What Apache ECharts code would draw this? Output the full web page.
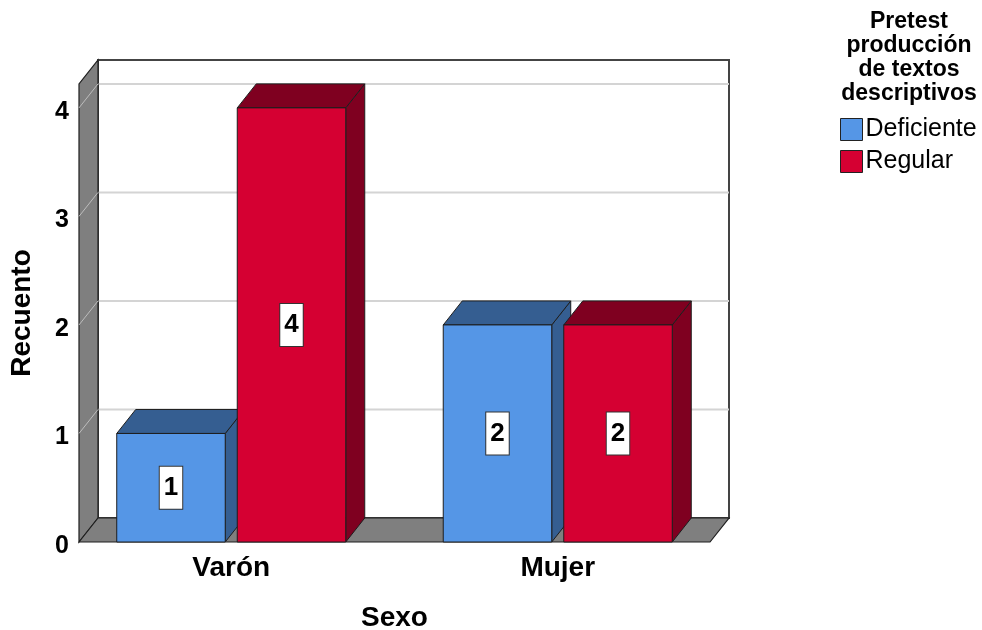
<!DOCTYPE html>
<html>
<head>
<meta charset="utf-8">
<script src="https://cdn.jsdelivr.net/npm/echarts@6/dist/echarts.min.js"></script>
<style>
html,body{margin:0;padding:0;background:#fff;}
#chart{width:982px;height:630px;}
</style>
</head>
<body>
<div id="chart"></div>
<script>
// ---- data ----
var categories = ['Varón', 'Mujer'];
var seriesNames = ['Deficiente', 'Regular'];
var deficienteValues = [1, 2];
var regularValues = [4, 2];
var yTicks = [0, 1, 2, 3, 4];
var legendTitle = 'Pretest\nproducción\nde textos\ndescriptivos';

// ---- style constants ----
var FONT = 'Liberation Sans, Arial, sans-serif';
var DX = 19, DY = -24;           // 3D depth offset
var INSET = 11;                  // floor inset inside grid
var BAR_FRAC = 0.3323, GAP_FRAC = 0.0368;
var colors = {
  Deficiente: { front: '#5596E6', dark: '#355E91' },
  Regular: { front: '#D50032', dark: '#7F0020' }
};
var EDGE = '#1e1e1e';

var chart = echarts.init(document.getElementById('chart'), null, { renderer: 'canvas' });

function renderFrame(params, api) {
  var cs = params.coordSys;
  var FL = cs.x + INSET, FR = cs.x + cs.width - INSET;
  var y0 = api.coord([0, 0])[1];
  var yt = cs.y;
  var children = [];
  // back wall
  children.push({ type: 'rect', shape: { x: FL + DX, y: yt + DY, width: FR - FL, height: y0 - yt },
    style: { fill: '#ffffff', stroke: '#444', lineWidth: 2 } });
  // back grid lines
  yTicks.forEach(function (v) {
    if (v === 0) return;
    var y = api.coord([0, v])[1] + DY;
    children.push({ type: 'line', shape: { x1: FL + DX, y1: y, x2: FR + DX, y2: y },
      style: { stroke: '#d4d4d4', lineWidth: 2 } });
  });
  // left wall
  children.push({ type: 'polygon', shape: { points: [[FL, y0], [FL, yt], [FL + DX, yt + DY], [FL + DX, y0 + DY]] },
    style: { fill: '#7f7f7f', stroke: EDGE, lineWidth: 1.2 } });
  yTicks.forEach(function (v) {
    if (v === 0) return;
    var y = api.coord([0, v])[1];
    children.push({ type: 'line', shape: { x1: FL, y1: y, x2: FL + DX, y2: y + DY },
      style: { stroke: '#bdbdbd', lineWidth: 1 } });
  });
  // floor
  children.push({ type: 'polygon', shape: { points: [[FL, y0], [FL + DX, y0 + DY], [FR + DX, y0 + DY], [FR, y0]] },
    style: { fill: '#7f7f7f', stroke: EDGE, lineWidth: 1.2 } });
  return { type: 'group', children: children };
}

function makeBarRenderer(idx, name) {
  var c = colors[name];
  return function (params, api) {
    var cat = api.value(0), val = api.value(1);
    var base = api.coord([cat, 0]);
    var band = api.size([1, 0])[0];
    var barW = band * BAR_FRAC, gap = band * GAP_FRAC;
    var groupW = 2 * barW + gap;
    var x0 = base[0] - groupW / 2 + idx * (barW + gap);
    var x1 = x0 + barW;
    var yb = base[1];
    var yt = api.coord([cat, val])[1];
    return {
      type: 'group',
      children: [
        { type: 'polygon', shape: { points: [[x1, yt], [x1 + DX, yt + DY], [x1 + DX, yb + DY], [x1, yb]] },
          style: { fill: c.dark, stroke: EDGE, lineWidth: 1 } },
        { type: 'polygon', shape: { points: [[x0, yt], [x0 + DX, yt + DY], [x1 + DX, yt + DY], [x1, yt]] },
          style: { fill: c.dark, stroke: EDGE, lineWidth: 1 } },
        { type: 'rect', shape: { x: x0, y: yt, width: barW, height: yb - yt },
          style: { fill: c.front, stroke: EDGE, lineWidth: 1 } },
        { type: 'text', z2: 10,
          style: { text: String(val), x: (x0 + x1) / 2, y: (yt + yb) / 2,
            textAlign: 'center', textVerticalAlign: 'middle', align: 'center', verticalAlign: 'middle',
            font: 'bold 26px ' + FONT, fill: '#000',
            backgroundColor: '#fff', borderColor: '#333', borderWidth: 1, padding: [8, 4, 8, 4] } }
      ]
    };
  };
}

function toPairs(arr) { return arr.map(function (v, i) { return [i, v]; }); }

var option = {
  animation: false,
  backgroundColor: '#ffffff',
  grid: { left: 68, right: 261, top: 84, bottom: 88, containLabel: false, outerBoundsMode: 'none' },
  xAxis: {
    type: 'category', data: categories,
    axisLine: { show: false }, axisTick: { show: false }, splitLine: { show: false },
    axisLabel: { fontFamily: FONT, fontWeight: 'bold', fontSize: 28, color: '#000', margin: 12 },
    name: 'Sexo', nameLocation: 'middle', nameGap: 62, nameMoveOverlap: false,
    nameTextStyle: { fontFamily: FONT, fontWeight: 'bold', fontSize: 28, color: '#000' }
  },
  yAxis: {
    type: 'value', min: 0, max: 4.22, interval: 1,
    axisLine: { show: false }, axisTick: { show: false }, splitLine: { show: false },
    axisLabel: { fontFamily: FONT, fontWeight: 'bold', fontSize: 25, color: '#000', margin: -1,
      showMaxLabel: false, verticalAlign: 'top', lineHeight: 8,
      formatter: function (v) { return yTicks.indexOf(v) >= 0 ? String(v) : ''; } },
    name: 'Recuento', nameLocation: 'middle', nameGap: 32, nameMoveOverlap: false,
    nameTextStyle: { fontFamily: FONT, fontWeight: 'bold', fontSize: 28, color: '#000' }
  },
  legend: {
    data: [
      { name: 'Deficiente', icon: 'rect', itemStyle: { color: colors.Deficiente.front, borderColor: '#222', borderWidth: 1 } },
      { name: 'Regular', icon: 'rect', itemStyle: { color: colors.Regular.front, borderColor: '#222', borderWidth: 1 } }
    ],
    orient: 'vertical', left: 840, top: 117, padding: 0,
    itemWidth: 22, itemHeight: 22, itemGap: 7,
    textStyle: { fontFamily: FONT, fontSize: 25, color: '#000', padding: [0, 0, 0, -2] },
    selectedMode: false
  },
  graphic: [
    { type: 'text', left: 909 - 70, top: 10, z: 10,
      style: { text: legendTitle, font: 'bold 23px ' + FONT, lineHeight: 24, fill: '#000',
        textAlign: 'center', align: 'center', width: 140, x: 70 } }
  ],
  series: [
    { type: 'custom', name: '_frame', silent: true, renderItem: renderFrame, data: [[0, 0]], z: 1 },
    { type: 'custom', name: seriesNames[0], renderItem: makeBarRenderer(0, seriesNames[0]),
      itemStyle: { color: colors.Deficiente.front }, data: toPairs(deficienteValues), z: 2 },
    { type: 'custom', name: seriesNames[1], renderItem: makeBarRenderer(1, seriesNames[1]),
      itemStyle: { color: colors.Regular.front }, data: toPairs(regularValues), z: 3 }
  ]
};
chart.setOption(option);
</script>
</body>
</html>
